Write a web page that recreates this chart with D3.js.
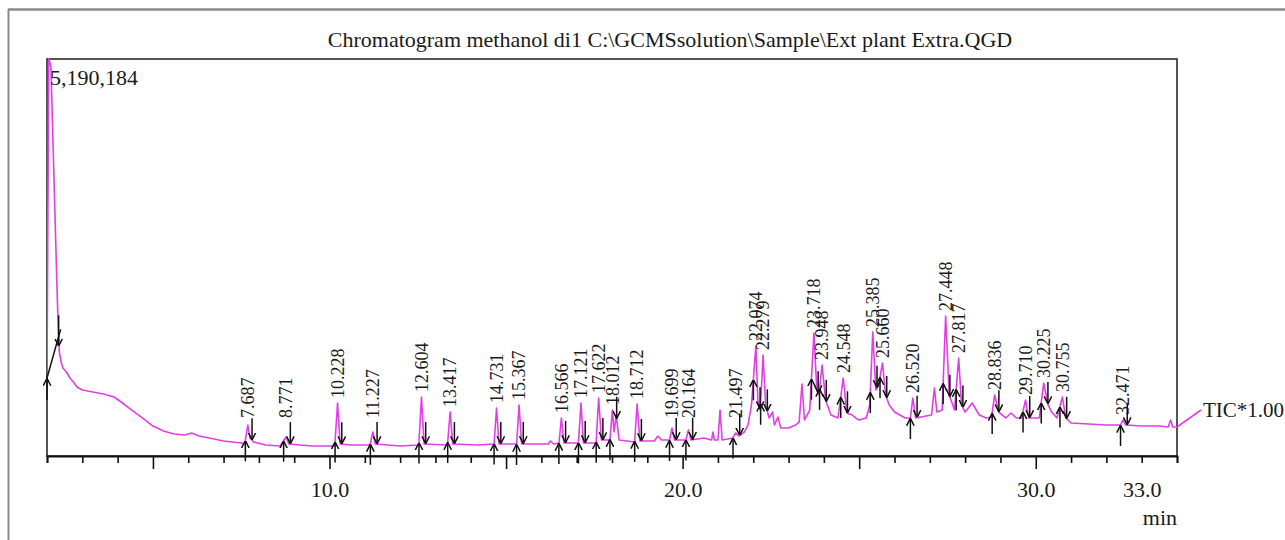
<!DOCTYPE html>
<html><head><meta charset="utf-8">
<script src="https://cdn.jsdelivr.net/npm/d3@7"></script>
<style>body{margin:0;background:#fff}svg{display:block}text{font-family:"Liberation Serif","Times New Roman",serif;fill:#1a1a1a}</style>
</head><body><svg id="c" width="1285" height="540"></svg>
<script>
// ---- data (time in min, TIC intensity in counts) ----
const traceTime = [2.00,2.05,2.11,2.20,2.28,2.32,2.35,2.40,2.45,2.55,2.65,2.75,2.85,3.0,3.3,3.6,3.9,4.1,4.4,4.7,5.0,5.3,5.6,5.9,6.1,6.3,6.6,7.0,7.5,7.6,7.687,7.75,7.85,8.2,8.6,8.771,8.85,9.5,10.15,10.228,10.3,10.6,11.15,11.227,11.3,12.0,12.53,12.604,12.68,13.34,13.417,13.49,14.2,14.66,14.731,14.8,15.30,15.367,15.44,16.2,16.25,16.35,16.5,16.566,16.64,17.05,17.121,17.19,17.55,17.622,17.70,17.94,18.012,18.06,18.12,18.2,18.64,18.712,18.79,19.2,19.3,19.4,19.63,19.699,19.77,20.09,20.164,20.24,20.6,20.82,20.86,20.9,21.0,21.06,21.12,21.42,21.497,21.6,21.75,21.85,21.95,22.074,22.13,22.2,22.279,22.35,22.45,22.55,22.6,22.7,22.78,22.9,23.0,23.2,23.3,23.38,23.45,23.6,23.718,23.8,23.86,23.948,24.05,24.2,24.4,24.548,24.65,24.8,24.9,25.0,25.2,25.3,25.385,25.47,25.55,25.660,25.75,25.85,26.0,26.3,26.45,26.520,26.6,26.9,27.05,27.13,27.2,27.35,27.448,27.55,27.7,27.817,27.9,28.0,28.2,28.4,28.6,28.75,28.836,28.95,29.15,29.3,29.45,29.6,29.710,29.8,30.1,30.225,30.35,30.45,30.6,30.755,30.85,31.0,31.5,32.0,32.4,32.471,32.55,33.0,33.5,33.75,33.82,33.88,34.0];
const traceValue = [1020000,5190184,5100000,3600000,2250000,1647000,1360000,1229000,1151000,1098000,1020000,967000,902000,863000,837000,811000,771000,706000,601000,497000,392000,327000,288000,275000,301000,261000,235000,196000,170000,157000,405000,235000,183000,144000,131000,248000,157000,131000,131000,693000,157000,144000,144000,314000,157000,131000,144000,771000,157000,144000,575000,157000,144000,157000,628000,157000,157000,667000,157000,157000,196000,157000,170000,497000,170000,170000,693000,170000,170000,758000,209000,209000,601000,314000,536000,209000,183000,680000,196000,196000,261000,209000,209000,366000,209000,209000,340000,209000,235000,209000,314000,209000,209000,601000,209000,235000,301000,261000,314000,405000,667000,1438000,732000,601000,1320000,667000,497000,575000,405000,510000,366000,366000,366000,405000,445000,941000,471000,601000,1608000,863000,798000,1190000,732000,536000,497000,1020000,562000,536000,497000,471000,497000,667000,1621000,863000,928000,1216000,798000,667000,575000,497000,497000,758000,497000,523000,536000,889000,575000,601000,1830000,798000,601000,1281000,667000,575000,693000,536000,497000,510000,798000,575000,497000,562000,497000,497000,732000,497000,497000,954000,667000,575000,497000,771000,497000,431000,418000,405000,405000,471000,405000,392000,392000,379000,471000,379000,379000];
const peakLabels = ["7.687","8.771","10.228","11.227","12.604","13.417","14.731","15.367","16.566","17.121","17.622","18.012","18.712","19.699","20.164","21.497","22.074","22.279","23.718","23.948","24.548","25.385","25.660","26.520","27.448","27.817","28.836","29.710","30.225","30.755","32.471"];
const axisTickLabels = [10, 20, 30, 33];
const timeDomain = [2, 34];
const maxIntensity = 5190184;
const maxLabel = "5,190,184";
const titleText = "Chromatogram methanol di1 C:\\GCMSsolution\\Sample\\Ext plant Extra.QGD";
const seriesName = "TIC*1.00";
const axisUnit = "min";

// ---- drawing ----
const svg = d3.select("#c");
const L = 47, R = 1177, T = 59, B = 456;
const x = d3.scaleLinear().domain(timeDomain).range([L, R]);
const y = d3.scaleLinear().domain([0, maxIntensity]).range([B, T]);
const pts = traceTime.map((t, i) => [t, traceValue[i]]);
const bis = d3.bisector(d => d[0]).left;
function valAt(t) {
  const i = Math.max(1, Math.min(pts.length - 1, bis(pts, t)));
  const a = pts[i - 1], b = pts[i];
  return a[1] + (b[1] - a[1]) * (t - a[0]) / (b[0] - a[0]);
}

// outer page frame
svg.append("line").attr("x1", 8).attr("x2", 1285).attr("y1", 9.5).attr("y2", 9.5).attr("stroke", "#8a8a8a").attr("stroke-width", 2.5);
svg.append("line").attr("x1", 8.5).attr("x2", 8.5).attr("y1", 9).attr("y2", 540).attr("stroke", "#8a8a8a").attr("stroke-width", 2);

// title
svg.append("text").attr("x", 670).attr("y", 47).attr("text-anchor", "middle").attr("font-size", 22).text(titleText);

// plot frame
svg.append("rect").attr("x", L).attr("y", T).attr("width", R - L).attr("height", B - T)
  .attr("fill", "none").attr("stroke", "#2a2a2a").attr("stroke-width", 1.6);

svg.append("defs").append("clipPath").attr("id", "clip").append("rect")
  .attr("x", L).attr("y", T - 1).attr("width", R - L).attr("height", B - T + 1);
const defs = svg.select("defs");
defs.append("marker").attr("id", "ah").attr("viewBox", "0 0 10 10").attr("refX", 9).attr("refY", 5)
  .attr("markerWidth", 5).attr("markerHeight", 6).attr("orient", "auto")
  .append("path").attr("d", "M0,0L10,5L0,10").attr("fill", "none").attr("stroke", "#111").attr("stroke-width", 2);

// x axis
const ax = d3.axisBottom(x).tickValues(d3.range(timeDomain[0], timeDomain[1] + 1, 1))
  .tickSizeOuter(0).tickSize(7)
  .tickFormat(d => axisTickLabels.includes(d) ? d.toFixed(1) : "");
const gAx = svg.append("g").attr("transform", `translate(0,${B})`).call(ax);
gAx.select(".domain").attr("stroke", "#111").attr("stroke-width", 1.8);
gAx.selectAll(".tick line").attr("stroke", "#111").attr("stroke-width", 1.6)
  .attr("y2", d => d % 5 === 0 ? 13 : 7);
gAx.selectAll(".tick text").attr("font-size", 22).attr("font-family", '"Liberation Serif",serif')
  .attr("fill", "#1a1a1a").attr("y", 25);
svg.append("text").attr("x", R).attr("y", 525).attr("text-anchor", "end").attr("font-size", 22).text(axisUnit);

// trace
const line = d3.line().x(d => x(d[0])).y(d => y(d[1]));
svg.append("path").datum(pts).attr("clip-path", "url(#clip)").attr("d", line)
  .attr("fill", "none").attr("stroke", "#e23ee6").attr("stroke-width", 1.6).attr("stroke-linejoin", "round");

// leader to series label
const last = pts[pts.length - 1];
svg.append("line").attr("x1", x(last[0])).attr("y1", y(last[1])).attr("x2", x(last[0]) + 24).attr("y2", y(last[1]) - 17)
  .attr("stroke", "#e23ee6").attr("stroke-width", 1.6);
svg.append("text").attr("x", x(last[0]) + 26).attr("y", 417).attr("font-size", 21).text(seriesName);

// max label
svg.append("text").attr("x", 50).attr("y", 85).attr("font-size", 22).text(maxLabel);

// solvent peak integration baseline and arrows
const arrows = svg.append("g").attr("stroke", "#111").attr("stroke-width", 1.5).attr("fill", "none");
const s0 = timeDomain[0], s1 = 2.33;
arrows.append("line").attr("x1", x(s0)).attr("y1", y(valAt(s0))).attr("x2", x(s1) + 2).attr("y2", y(valAt(s1)) - 8);
arrows.append("line").attr("x1", x(s0)).attr("y1", y(valAt(s0)) + 22).attr("x2", x(s0)).attr("y2", y(valAt(s0)) + 1).attr("marker-end", "url(#ah)");
arrows.append("line").attr("x1", x(s1)).attr("y1", y(valAt(s1)) - 22).attr("x2", x(s1)).attr("y2", y(valAt(s1)) + 8).attr("marker-end", "url(#ah)");

// peak arrows and labels
peakLabels.forEach(lbl => {
  const t = +lbl;
  const ts = t - 0.07, te = t + 0.12;
  const ys = y(valAt(ts)), ye = y(valAt(te));
  arrows.append("line").attr("x1", x(ts)).attr("y1", ys + 21).attr("x2", x(ts)).attr("y2", ys + 1).attr("marker-end", "url(#ah)");
  arrows.append("line").attr("x1", x(te)).attr("y1", ye - 22).attr("x2", x(te)).attr("y2", ye - 1).attr("marker-end", "url(#ah)");
  const yb = Math.min(y(valAt(t)) - 5, 418);
  svg.append("text").attr("transform", `translate(${x(t)},${yb}) rotate(-90)`)
    .attr("dy", "0.35em").attr("font-size", 18).text(lbl);
});
</script></body></html>
